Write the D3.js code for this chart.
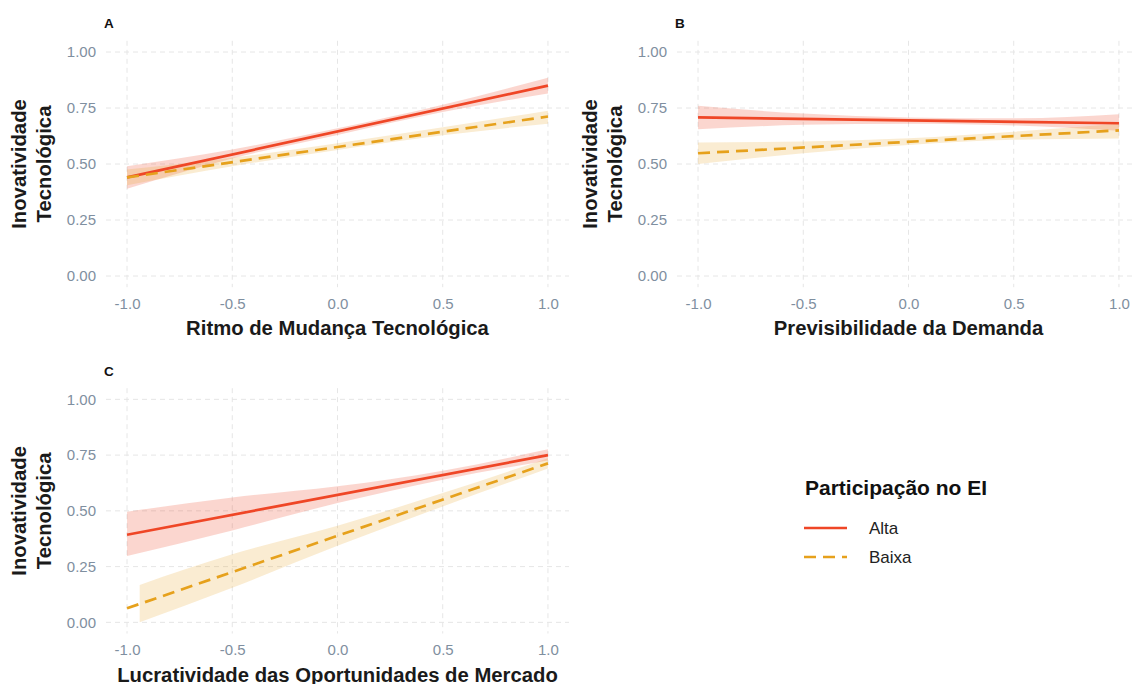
<!DOCTYPE html>
<html>
<head>
<meta charset="utf-8">
<script src="https://cdn.jsdelivr.net/npm/d3@7"></script>
<style>
  html, body { margin: 0; padding: 0; background: #ffffff; }
  svg { display: block; font-family: "Liberation Sans", Arial, Helvetica, sans-serif; }
</style>
</head>
<body>
<svg id="chart" width="1134" height="684"></svg>
<script>
// ---- data ----
const xTicks = [-1, -0.5, 0, 0.5, 1];
const yTicks = [0, 0.25, 0.5, 0.75, 1];
const groupNames = ["Alta", "Baixa"];
const legendTitle = "Participação no EI";
const panelLetters = ["A", "B", "C"];
const xTitles = [
  "Ritmo de Mudança Tecnológica",
  "Previsibilidade da Demanda",
  "Lucratividade das Oportunidades de Mercado"
];
const yTitleLines = ["Inovatividade", "Tecnológica"];

// fitted lines (endpoints at x = -1 and x = 1)
const lineX = [-1, 1];
const aAltaFit  = [0.44, 0.85];
const aBaixaFit = [0.44, 0.712];
const bAltaFit  = [0.708, 0.682];
const bBaixaFit = [0.548, 0.650];
const cAltaFit  = [0.393, 0.75];
const cBaixaFit = [0.063, 0.713];

// confidence bands
const bandX = [-1, -0.5, 0, 0.5, 1];
const cBaixaBandX = [-0.94, -0.5, 0, 0.5, 1];
const aAltaLo  = [0.39, 0.525, 0.630, 0.732, 0.815];
const aAltaHi  = [0.49, 0.565, 0.660, 0.765, 0.885];
const aBaixaLo = [0.405, 0.490, 0.563, 0.628, 0.680];
const aBaixaHi = [0.475, 0.528, 0.593, 0.664, 0.738];
const bAltaLo  = [0.655, 0.675, 0.680, 0.672, 0.648];
const bAltaHi  = [0.760, 0.725, 0.708, 0.704, 0.722];
const bBaixaLo = [0.500, 0.548, 0.585, 0.608, 0.614];
const bBaixaHi = [0.596, 0.600, 0.615, 0.644, 0.680];
const cAltaLo  = [0.297, 0.412, 0.535, 0.640, 0.726];
const cAltaHi  = [0.496, 0.560, 0.610, 0.680, 0.776];
const cBaixaLo = [0.0, 0.155, 0.343, 0.520, 0.690];
const cBaixaHi = [0.168, 0.305, 0.433, 0.580, 0.736];

// ---- styling ----
const colors = { Alta: "#EF4626", Baixa: "#E6A11C" };
const dashes = { Alta: null, Baixa: "12,7" };
const tickColor = "#7F8FA0";
const gridColor = "#E6E6E6";
const font = '"Liberation Sans", Arial, Helvetica, sans-serif';
const titleSize = 20.3;

const panels = [
  { letter: panelLetters[0], xTitle: xTitles[0], x0: 106, x1: 569, yTop: 40.8, yBot: 287.2,
    series: [
      { name: "Alta",  fit: aAltaFit,  bx: bandX, lo: aAltaLo,  hi: aAltaHi },
      { name: "Baixa", fit: aBaixaFit, bx: bandX, lo: aBaixaLo, hi: aBaixaHi }
    ] },
  { letter: panelLetters[1], xTitle: xTitles[1], x0: 677, x1: 1140, yTop: 40.8, yBot: 287.2,
    series: [
      { name: "Alta",  fit: bAltaFit,  bx: bandX, lo: bAltaLo,  hi: bAltaHi },
      { name: "Baixa", fit: bBaixaFit, bx: bandX, lo: bBaixaLo, hi: bBaixaHi }
    ] },
  { letter: panelLetters[2], xTitle: xTitles[2], x0: 106, x1: 569, yTop: 388.2, yBot: 633.5,
    series: [
      { name: "Alta",  fit: cAltaFit,  bx: bandX,       lo: cAltaLo,  hi: cAltaHi },
      { name: "Baixa", fit: cBaixaFit, bx: cBaixaBandX, lo: cBaixaLo, hi: cBaixaHi }
    ] }
];

// plain hyphen for negative tick labels
const fmt = f => v => d3.format(f)(v).replace("\u2212", "-");

const svg = d3.select("#chart");

panels.forEach(p => {
  const x = d3.scaleLinear().domain([-1.1, 1.1]).range([p.x0, p.x1]);
  const y = d3.scaleLinear().domain([-0.05, 1.05]).range([p.yBot, p.yTop]);
  const g = svg.append("g");

  // dashed major grid
  g.append("g").selectAll("line").data(xTicks).join("line")
    .attr("x1", d => x(d)).attr("x2", d => x(d))
    .attr("y1", p.yTop).attr("y2", p.yBot)
    .attr("stroke", gridColor).attr("stroke-width", 1).attr("stroke-dasharray", "5,4");
  g.append("g").selectAll("line").data(yTicks).join("line")
    .attr("x1", p.x0).attr("x2", p.x1)
    .attr("y1", d => y(d)).attr("y2", d => y(d))
    .attr("stroke", gridColor).attr("stroke-width", 1).attr("stroke-dasharray", "5,4");

  // axes
  const yAxis = g.append("g").attr("transform", `translate(${p.x0},0)`)
    .call(d3.axisLeft(y).tickValues(yTicks).tickFormat(fmt(".2f")).tickSize(0).tickPadding(10));
  const xAxis = g.append("g").attr("transform", `translate(0,${p.yBot})`)
    .call(d3.axisBottom(x).tickValues(xTicks).tickFormat(fmt(".1f")).tickSize(0).tickPadding(11));
  [yAxis, xAxis].forEach(a => {
    a.select(".domain").remove();
    a.selectAll("text").attr("fill", tickColor).style("font-size", "15px").style("font-family", font);
  });

  // confidence bands
  p.series.forEach(s => {
    const pts = s.bx.map((v, i) => ({ x: v, lo: s.lo[i], hi: s.hi[i] }));
    const area = d3.area().curve(d3.curveMonotoneX)
      .x(d => x(d.x)).y0(d => y(d.lo)).y1(d => y(d.hi));
    g.append("path").datum(pts).attr("d", area)
      .attr("fill", colors[s.name]).attr("fill-opacity", s.name === "Alta" ? 0.22 : 0.2);
  });

  // fitted lines
  p.series.forEach(s => {
    const pts = lineX.map((v, i) => ({ x: v, y: s.fit[i] }));
    const line = d3.line().x(d => x(d.x)).y(d => y(d.y));
    g.append("path").datum(pts).attr("d", line)
      .attr("fill", "none").attr("stroke", colors[s.name]).attr("stroke-width", 2.7)
      .attr("stroke-dasharray", dashes[s.name]);
  });

  // panel tag
  g.append("text").attr("x", p.x0 - 2).attr("y", p.yTop - 12.5)
    .attr("font-size", 13.5).attr("font-weight", "bold").attr("fill", "#111").text(p.letter);

  // x title, centred on the data range
  g.append("text").attr("x", (x(-1) + x(1)) / 2).attr("y", p.yBot + 48)
    .attr("text-anchor", "middle").attr("font-size", titleSize).attr("font-weight", "bold")
    .attr("fill", "#1a1a1a").text(p.xTitle);

  // y title (two lines)
  const yc = y(0.5);
  const yt = g.append("text").attr("transform", `translate(${p.x0 - 80},${yc}) rotate(-90)`)
    .attr("text-anchor", "middle").attr("font-size", titleSize).attr("font-weight", "bold").attr("fill", "#1a1a1a");
  yTitleLines.forEach((t, i) => {
    yt.append("tspan").attr("x", 0).attr("y", i * 24.5).text(t);
  });
});

// legend
const lg = svg.append("g");
lg.append("text").attr("x", 805).attr("y", 494.5)
  .attr("font-size", 21).attr("font-weight", "bold").attr("fill", "#111").text(legendTitle);
groupNames.forEach((name, i) => {
  const yy = 528 + i * 29;
  lg.append("line").attr("x1", 804).attr("x2", 847).attr("y1", yy).attr("y2", yy)
    .attr("stroke", colors[name]).attr("stroke-width", 2.7).attr("stroke-dasharray", dashes[name]);
  lg.append("text").attr("x", 869).attr("y", yy).attr("dy", "0.35em")
    .attr("font-size", 17).attr("fill", "#222").text(name);
});
</script>
</body>
</html>
